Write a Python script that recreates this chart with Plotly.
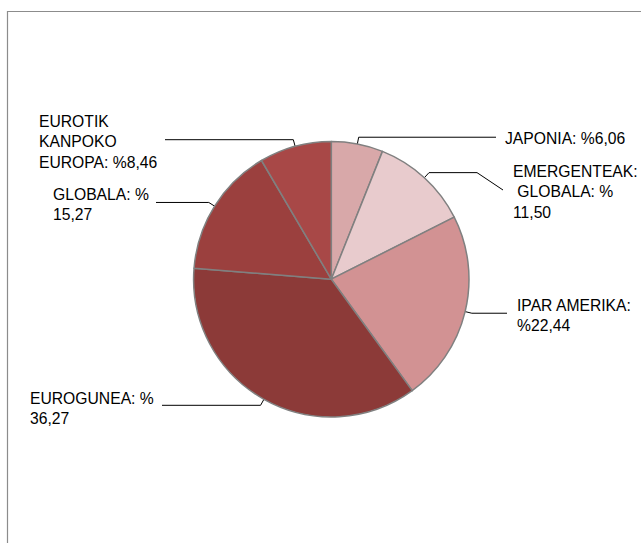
import math
import plotly.graph_objects as go

# ---- data (clockwise from 12 o'clock) ----
categories = ["JAPONIA", "EMERGENTEAK GLOBALA", "IPAR AMERIKA", "EUROGUNEA", "GLOBALA", "EUROTIK KANPOKO EUROPA"]
values = [6.06, 11.50, 22.44, 36.27, 15.27, 8.46]
# how each label is wrapped in the picture
label_heads = ["JAPONIA:", "EMERGENTEAK:<br> GLOBALA:", "IPAR AMERIKA:", "EUROGUNEA:", "GLOBALA:", "EUROTIK<br>KANPOKO<br>EUROPA:"]
label_seps = [" %", " %<br>", "<br>%", " %<br>", " %<br>", " %"]
colors = ["#d8a8a9", "#e8cbcd", "#d29293", "#8c3a38", "#9b403e", "#a84847"]

# ---- layout (pixels) ----
W, H = 641, 543
CX, CY, R = 331.3, 279.2, 137.7
R_IN, R_OUT = 0.905, 1.05
# per slice: horizontal end x of leader, optional extra point, label anchor (x, y centre)
leader_end_x = [496, 477, 507, 162, 156, 165]
leader_extra = [None, (503, 190), None, None, None, None]
label_pos = [(503, 138), (511, 192), (515, 315), (28, 408), (51, 204), (37, 142)]

fig = go.Figure()

fig.add_trace(go.Pie(
    labels=categories, values=values, sort=False, direction="clockwise", rotation=0,
    marker=dict(colors=colors, line=dict(color="#808080", width=1.5)),
    textinfo="none", hoverinfo="label+percent", showlegend=False,
    domain=dict(x=[(CX - R) / W, (CX + R) / W], y=[(H - CY - R) / H, (H - CY + R) / H]),
))

total = sum(values)
cum = 0.0
annotations = []
for i, v in enumerate(values):
    mid = (cum + v / 2) / total * 2 * math.pi
    cum += v
    sx, sy = CX + R * R_IN * math.sin(mid), CY - R * R_IN * math.cos(mid)
    ex, ey = CX + R * R_OUT * math.sin(mid), CY - R * R_OUT * math.cos(mid)
    xs = [sx, ex, leader_end_x[i]]
    ys = [sy, ey, ey]
    if leader_extra[i]:
        xs.append(leader_extra[i][0])
        ys.append(leader_extra[i][1])
    fig.add_trace(go.Scatter(x=xs, y=ys, mode="lines", line=dict(color="black", width=1),
                             hoverinfo="skip", showlegend=False))
    txt = label_heads[i] + label_seps[i] + f"{v:.2f}".replace(".", ",")
    annotations.append(dict(x=label_pos[i][0], y=label_pos[i][1], xref="x", yref="y",
                            text=txt, showarrow=False, xanchor="left", yanchor="middle",
                            align="left", font=dict(family="Liberation Sans, Arial", size=15.7, color="black")))

fig.update_layout(
    width=W, height=H, margin=dict(l=0, r=0, t=0, b=0),
    paper_bgcolor="white", plot_bgcolor="rgba(0,0,0,0)",
    xaxis=dict(range=[0, W], visible=False, fixedrange=True, domain=[0, 1]),
    yaxis=dict(range=[H, 0], visible=False, fixedrange=True, domain=[0, 1]),
    annotations=annotations,
    shapes=[dict(type="rect", xref="x", yref="y", x0=7.5, y0=11.5, x1=W + 10, y1=H + 10,
                 line=dict(color="#8c8c8c", width=1.2), layer="below")],
)

fig.write_html("out.html", config={"displayModeBar": False},
               post_script="document.body.style.margin='0';document.body.style.overflow='hidden';")
